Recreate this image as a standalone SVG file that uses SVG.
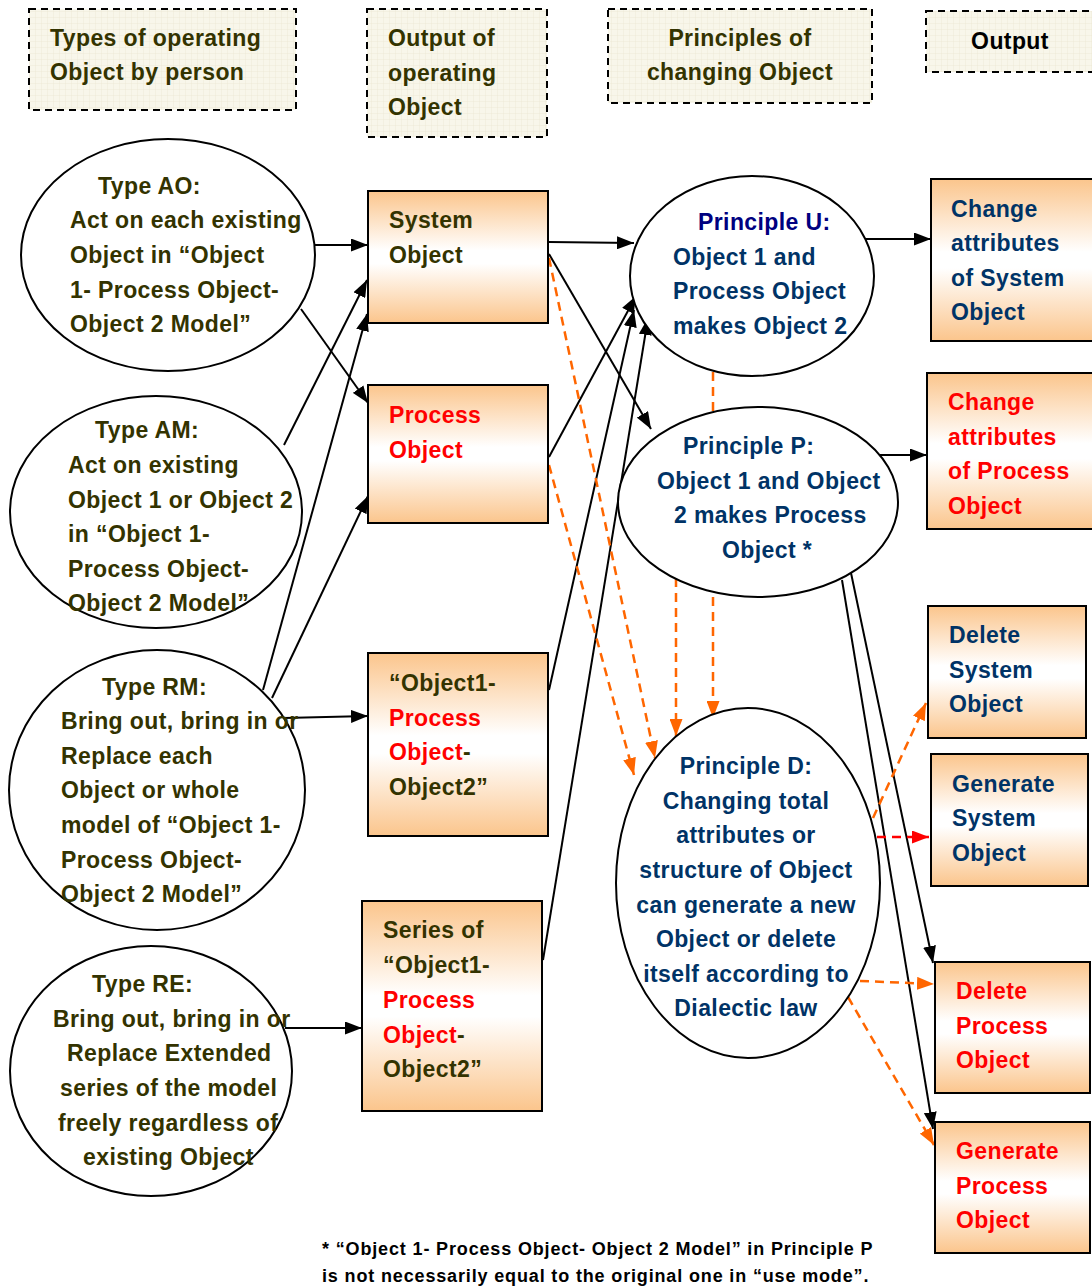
<svg xmlns="http://www.w3.org/2000/svg" width="1092" height="1288" viewBox="0 0 1092 1288">
<style>
text{font-family:"Liberation Sans",Arial,sans-serif;font-weight:bold;font-size:23px;fill:#333300;letter-spacing:0.4px}
.hdr{fill:url(#grid);stroke:#000;stroke-width:2;stroke-dasharray:7 5}
.ell{fill:#fff;stroke:#000;stroke-width:2}
.box{fill:url(#peach);stroke:#000;stroke-width:2}
.blue{fill:#003366}
.navy{fill:#000080}
.red{fill:#ff0000}
.blk{fill:#000}
.mid{text-anchor:middle}
.c{fill:none;stroke:#000;stroke-width:2}
.o{fill:none;stroke:#ff6600;stroke-width:2.5;stroke-dasharray:9 6}
.r{fill:none;stroke:#ff0000;stroke-width:2.5;stroke-dasharray:9 6}
.note{font-size:18px;fill:#000;letter-spacing:0.85px}
</style>
<defs>
<pattern id="grid" width="6" height="6" patternUnits="userSpaceOnUse">
<rect width="6" height="6" fill="#f8f6ea"/>
<path d="M6 0V6M0 6H6" stroke="#ebe7d2" stroke-width="0.7"/>
</pattern>
<linearGradient id="peach" x1="0" y1="0" x2="0" y2="1">
<stop offset="0" stop-color="#fbc58c"/>
<stop offset="0.45" stop-color="#ffffff"/>
<stop offset="0.55" stop-color="#ffffff"/>
<stop offset="1" stop-color="#fbc58c"/>
</linearGradient>
<marker id="ab" markerWidth="17" markerHeight="13" refX="17" refY="6.5" orient="auto" markerUnits="userSpaceOnUse"><path d="M0 0L17 6.5L0 13Z" fill="#000"/></marker>
<marker id="ao" markerWidth="17" markerHeight="13" refX="17" refY="6.5" orient="auto" markerUnits="userSpaceOnUse"><path d="M0 0L17 6.5L0 13Z" fill="#ff6600"/></marker>
<marker id="ar" markerWidth="17" markerHeight="13" refX="17" refY="6.5" orient="auto" markerUnits="userSpaceOnUse"><path d="M0 0L17 6.5L0 13Z" fill="#ff0000"/></marker>
</defs>

<g id="hdr-types"><rect class="hdr" x="29" y="9" width="267" height="101"/><text x="50" y="46">Types of operating</text><text x="50" y="80">Object by person</text></g>
<g id="hdr-output-op"><rect class="hdr" x="367" y="9" width="180" height="128"/><text x="388" y="46">Output of</text><text x="388" y="81">operating</text><text x="388" y="115">Object</text></g>
<g id="hdr-principles"><rect class="hdr" x="608" y="9" width="264" height="94"/><text class="mid" x="740" y="46">Principles of</text><text class="mid" x="740" y="80">changing Object</text></g>
<g id="hdr-output"><rect class="hdr" x="926" y="11" width="180" height="61"/><text class="mid blk" x="1010" y="49">Output</text></g>

<g id="connectors">
<line class="c" x1="315" y1="245" x2="368" y2="245" marker-end="url(#ab)"/>
<line class="c" x1="301" y1="309" x2="368" y2="403" marker-end="url(#ab)"/>
<line class="c" x1="284" y1="445" x2="367" y2="280" marker-end="url(#ab)"/>
<line class="c" x1="263" y1="690" x2="367" y2="314" marker-end="url(#ab)"/>
<line class="c" x1="272" y1="698" x2="368" y2="496" marker-end="url(#ab)"/>
<line class="c" x1="284" y1="718" x2="368" y2="716" marker-end="url(#ab)"/>
<line class="c" x1="285" y1="1028" x2="362" y2="1028" marker-end="url(#ab)"/>
<line class="c" x1="549" y1="242" x2="634" y2="243" marker-end="url(#ab)"/>
<line class="c" x1="549" y1="254" x2="651" y2="429" marker-end="url(#ab)"/>
<line class="c" x1="549" y1="457" x2="636" y2="296" marker-end="url(#ab)"/>
<line class="c" x1="549" y1="690" x2="634" y2="310" marker-end="url(#ab)"/>
<line class="c" x1="543" y1="960" x2="648" y2="318" marker-end="url(#ab)"/>
<line class="c" x1="864" y1="239" x2="931" y2="239" marker-end="url(#ab)"/>
<line class="c" x1="880" y1="455" x2="927" y2="455" marker-end="url(#ab)"/>
<line class="c" x1="851" y1="573" x2="933" y2="963" marker-end="url(#ab)"/>
<line class="c" x1="842" y1="580" x2="933" y2="1129" marker-end="url(#ab)"/>
<line class="o" x1="549" y1="258" x2="655" y2="758" marker-end="url(#ao)"/>
<line class="o" x1="549" y1="465" x2="634" y2="775" marker-end="url(#ao)"/>
<line class="o" x1="676" y1="578" x2="676" y2="736" marker-end="url(#ao)"/>
<line class="o" x1="713" y1="372" x2="713" y2="718" marker-end="url(#ao)"/>
<line class="o" x1="873" y1="818" x2="926" y2="703" marker-end="url(#ao)"/>
<line class="r" x1="877" y1="837" x2="929" y2="837" marker-end="url(#ar)"/>
<line class="o" x1="860" y1="981" x2="934" y2="984" marker-end="url(#ao)"/>
<line class="o" x1="848" y1="997" x2="934" y2="1145" marker-end="url(#ao)"/>
</g>

<g id="type-ao"><ellipse class="ell" cx="168" cy="255" rx="147" ry="116"/>
<text x="98" y="194">Type AO:</text><text x="70" y="228">Act on each existing</text><text x="70" y="263">Object in “Object</text><text x="70" y="298">1- Process Object-</text><text x="70" y="332">Object 2 Model”</text></g>
<g id="type-am"><ellipse class="ell" cx="156" cy="512" rx="146" ry="116"/>
<text x="95" y="438">Type AM:</text><text x="68" y="473">Act on existing</text><text x="68" y="508">Object 1 or Object 2</text><text x="68" y="542">in “Object 1-</text><text x="68" y="577">Process Object-</text><text x="68" y="611">Object 2 Model”</text></g>
<g id="type-rm"><ellipse class="ell" cx="157" cy="790" rx="148" ry="140"/>
<text x="102" y="695">Type RM:</text><text x="61" y="729">Bring out, bring in or</text><text x="61" y="764">Replace each</text><text x="61" y="798">Object or whole</text><text x="61" y="833">model of “Object 1-</text><text x="61" y="868">Process Object-</text><text x="61" y="902">Object 2 Model”</text></g>
<g id="type-re"><ellipse class="ell" cx="151" cy="1071" rx="141" ry="125"/>
<text x="92" y="992">Type RE:</text><text x="53" y="1027">Bring out, bring in or</text><text x="67" y="1061">Replace Extended</text><text x="60" y="1096">series of the model</text><text x="58" y="1131">freely regardless of</text><text x="83" y="1165">existing Object</text></g>

<g id="system-object"><rect class="box" x="368" y="191" width="180" height="132"/><text x="389" y="228">System</text><text x="389" y="263">Object</text></g>
<g id="process-object"><rect class="box" x="368" y="385" width="180" height="138"/><text class="red" x="389" y="423">Process</text><text class="red" x="389" y="458">Object</text></g>
<g id="model-object"><rect class="box" x="368" y="653" width="180" height="183"/><text x="389" y="691">“Object1-</text><text class="red" x="389" y="726">Process</text><text x="389" y="760"><tspan class="red">Object</tspan>-</text><text x="389" y="795">Object2”</text></g>
<g id="series-object"><rect class="box" x="362" y="901" width="180" height="210"/><text x="383" y="938">Series of</text><text x="383" y="973">“Object1-</text><text class="red" x="383" y="1008">Process</text><text x="383" y="1043"><tspan class="red">Object</tspan>-</text><text x="383" y="1077">Object2”</text></g>

<g id="principle-u"><ellipse class="ell" cx="752" cy="276" rx="122" ry="100"/>
<text class="navy" x="698" y="230">Principle U:</text><text class="blue" x="673" y="265">Object 1 and</text><text class="blue" x="673" y="299">Process Object</text><text class="blue" x="673" y="334">makes Object 2</text></g>
<g id="principle-p"><ellipse class="ell" cx="758" cy="502" rx="140" ry="95"/>
<text class="blue" x="683" y="454">Principle P:</text><text class="blue" x="657" y="489">Object 1 and Object</text><text class="blue" x="674" y="523">2 makes Process</text><text class="blue" x="722" y="558">Object *</text></g>
<g id="principle-d"><ellipse class="ell" cx="748" cy="883" rx="132" ry="175"/>
<text class="blue mid" x="746" y="774">Principle D:</text><text class="blue mid" x="746" y="809">Changing total</text><text class="blue mid" x="746" y="843">attributes or</text><text class="blue mid" x="746" y="878">structure of Object</text><text class="blue mid" x="746" y="913">can generate a new</text><text class="blue mid" x="746" y="947">Object or delete</text><text class="blue mid" x="746" y="982">itself according to</text><text class="blue mid" x="746" y="1016">Dialectic law</text></g>

<g id="change-system"><rect class="box" x="931" y="179" width="170" height="162"/><text class="blue" x="951" y="217">Change</text><text class="blue" x="951" y="251">attributes</text><text class="blue" x="951" y="286">of System</text><text class="blue" x="951" y="320">Object</text></g>
<g id="change-process"><rect class="box" x="927" y="373" width="170" height="156"/><text class="red" x="948" y="410">Change</text><text class="red" x="948" y="445">attributes</text><text class="red" x="948" y="479">of Process</text><text class="red" x="948" y="514">Object</text></g>
<g id="delete-system"><rect class="box" x="928" y="606" width="158" height="132"/><text class="blue" x="949" y="643">Delete</text><text class="blue" x="949" y="678">System</text><text class="blue" x="949" y="712">Object</text></g>
<g id="generate-system"><rect class="box" x="931" y="754" width="157" height="132"/><text class="blue" x="952" y="792">Generate</text><text class="blue" x="952" y="826">System</text><text class="blue" x="952" y="861">Object</text></g>
<g id="delete-process"><rect class="box" x="935" y="962" width="155" height="131"/><text class="red" x="956" y="999">Delete</text><text class="red" x="956" y="1034">Process</text><text class="red" x="956" y="1068">Object</text></g>
<g id="generate-process"><rect class="box" x="935" y="1122" width="155" height="131"/><text class="red" x="956" y="1159">Generate</text><text class="red" x="956" y="1194">Process</text><text class="red" x="956" y="1228">Object</text></g>

<g id="footnote"><text class="note" x="322" y="1255">* “Object 1- Process Object- Object 2 Model” in Principle P</text><text class="note" x="322" y="1282">is not necessarily equal to the original one in “use mode”.</text></g>
</svg>
